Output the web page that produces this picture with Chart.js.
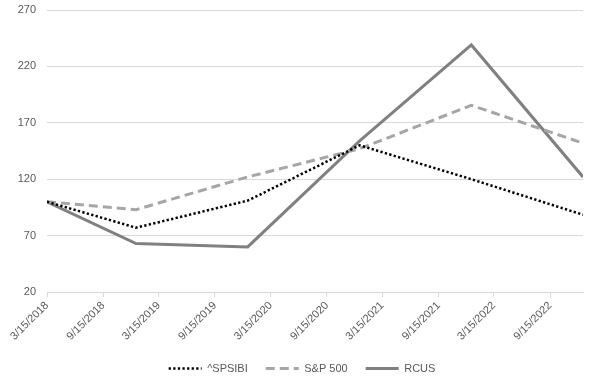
<!DOCTYPE html>
<html lang="en">
<head>
    <meta charset="UTF-8">
    <title>Index comparison</title>
    <script src="https://cdn.jsdelivr.net/npm/chart.js"></script>
    <style>
        html, body { margin: 0; padding: 0; background: #fff; }
    </style>
</head>
<body>
    <canvas id="perfChart" width="604" height="384"></canvas>
    <script>
        // data
        const dates = ["3/15/2018", "12/31/2018", "12/31/2019", "12/31/2020", "12/31/2021", "12/31/2022"];
        const spsibi = [100, 77, 101, 150, 120, 88.5];
        const sp500 = [100, 93, 122, 147, 185.5, 152];
        const rcus = [100, 63, 60, 154, 239, 122];
        const tickLabels = ["3/15/2018", "9/15/2018", "3/15/2019", "9/15/2019", "3/15/2020",
                            "9/15/2020", "3/15/2021", "9/15/2021", "3/15/2022", "9/15/2022"];
        const yTicks = [20, 70, 120, 170, 220, 270];

        // m/d/yyyy -> day number
        function toDay(s) {
            const p = s.split("/").map(Number);
            return Date.UTC(p[2], p[0] - 1, p[1]) / 86400000;
        }
        function fromDay(d) {
            const dt = new Date(Math.round(d) * 86400000);
            return (dt.getUTCMonth() + 1) + "/" + dt.getUTCDate() + "/" + dt.getUTCFullYear();
        }

        const days = dates.map(toDay);
        const pts = arr => arr.map((v, i) => ({ x: days[i], y: v }));

        const font = { family: "'Liberation Sans', sans-serif", size: 11 };
        const textColor = "#595959";
        const gridColor = "#d9d9d9";

        // centre the legend on the whole canvas, not on the padded box
        const centerLegend = {
            id: "centerLegend",
            afterLayout(chart) {
                const lg = chart.legend;
                const shift = (chart.width - (lg.left + lg.right)) / 2;
                lg.left += shift;
                lg.right += shift;
            }
        };

        new Chart(document.getElementById("perfChart"), {
            type: "line",
            data: {
                datasets: [
                    {
                        label: "^SPSIBI",
                        data: pts(spsibi),
                        borderColor: "#000000",
                        borderWidth: 2.5,
                        borderDash: [2.3, 2.3]
                    },
                    {
                        label: "S&P 500",
                        data: pts(sp500),
                        borderColor: "#a6a6a6",
                        borderWidth: 3,
                        borderDash: [9, 5]
                    },
                    {
                        label: "RCUS",
                        data: pts(rcus),
                        borderColor: "#808080",
                        borderWidth: 3
                    }
                ]
            },
            plugins: [centerLegend],
            options: {
                responsive: false,
                maintainAspectRatio: false,
                animation: false,
                layout: { padding: { left: 0, right: 21, top: 10, bottom: 0 } },
                elements: {
                    point: { radius: 0 },
                    line: { tension: 0, fill: false }
                },
                plugins: {
                    legend: {
                        position: "bottom",
                        labels: {
                            usePointStyle: true,
                            pointStyle: "line",
                            pointStyleWidth: 33,
                            boxHeight: 12,
                            padding: 18,
                            color: textColor,
                            font: font,
                            // keep the dash pattern of each line in the legend
                            generateLabels: chart => chart.data.datasets.map((ds, i) => ({
                                text: ds.label,
                                fillStyle: ds.borderColor,
                                strokeStyle: ds.borderColor,
                                lineWidth: ds.borderWidth,
                                lineDash: ds.borderDash || [],
                                pointStyle: "line",
                                fontColor: textColor,
                                datasetIndex: i,
                                hidden: false
                            }))
                        }
                    },
                    tooltip: { enabled: false }
                },
                scales: {
                    x: {
                        type: "linear",
                        min: days[0],
                        max: days[days.length - 1],
                        afterBuildTicks: scale => {
                            scale.ticks = tickLabels.map(t => ({ value: toDay(t) }));
                        },
                        afterFit: scale => { scale.height = 53; },
                        ticks: {
                            minRotation: 45,
                            maxRotation: 45,
                            autoSkip: false,
                            color: textColor,
                            font: font,
                            padding: 2,
                            callback: v => fromDay(v)
                        },
                        grid: {
                            drawOnChartArea: false,
                            drawTicks: true,
                            tickLength: 5,
                            color: gridColor
                        },
                        border: { display: true, color: gridColor }
                    },
                    y: {
                        min: 20,
                        max: 270,
                        afterBuildTicks: scale => {
                            scale.ticks = yTicks.map(v => ({ value: v }));
                        },
                        afterFit: scale => {
                            scale.width = 47;
                            scale.paddingTop = 0;
                            scale.paddingBottom = 0;
                        },
                        ticks: {
                            color: textColor,
                            font: font,
                            padding: 11
                        },
                        grid: {
                            color: gridColor,
                            drawTicks: false
                        },
                        border: { display: false }
                    }
                }
            }
        });
    </script>
</body>
</html>
